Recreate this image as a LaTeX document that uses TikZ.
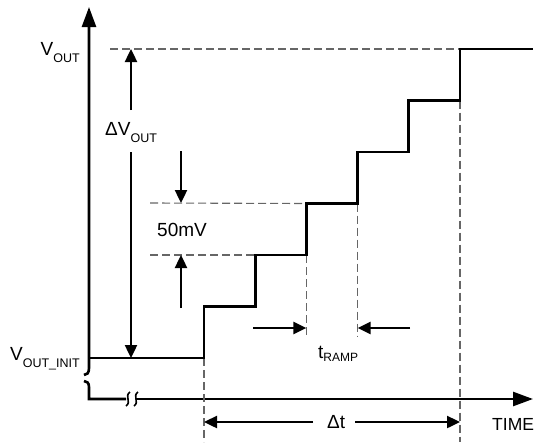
\documentclass[tikz,border=0pt]{standalone}
\usepackage{fontspec}
\setmainfont{Liberation Sans}
\usetikzlibrary{arrows.meta}
\newcommand{\vsub}[2][7pt]{\raisebox{-#1}{\fontsize{12.5}{13}\selectfont #2}}

\begin{document}
\begin{tikzpicture}[x=1pt,y=-1pt,
  lbl/.style={font=\fontsize{19}{22}\selectfont,inner sep=0pt},
  axisline/.style={line width=2.6pt},
  brk/.style={line width=1.6pt},
  trace/.style={line width=2.8pt},
  guide/.style={black!60,line width=1.1pt,dash pattern=on 8pt off 4pt},
  dim/.style={line width=2.4pt,-{Triangle[length=13pt,width=12pt]}},
  axistip/.style={-{Triangle[length=20pt,width=14pt]}}]
  \useasboundingbox (0,0) rectangle (543,442);

  \coordinate (orig) at (89,399);
  \coordinate (init) at (89,358);
  \coordinate (fin) at (533,49);
  \foreach \i in {0,...,5}
    \coordinate (s\i) at ({204+51.2*\i},{358-51.5*\i});

  % axes
  \draw[axisline,axistip] (84,375) .. controls (87,375) and (89,373) .. (89,368) -- (89,7);
  \draw[axisline] (84,381) .. controls (87,381) and (89,383) .. (89,387) -- (orig) -- (126,399);
  \draw[brk] (130,392) .. controls (124,396) and (132,402) .. (126,406);
  \draw[brk] (138,392) .. controls (132,396) and (140,402) .. (134,406);
  \draw[axisline,axistip] (136,399) -- (533,399);

  % guides
  \draw[guide] (110,49) -- (fin -| s5);
  \draw[guide] (150,203) -- (s2 |- s3);
  \draw[guide] (150,255) -- (s1 |- s2);
  \draw[guide] (s0) -- (s0 |- 0,442);
  \draw[guide] (s2) -- (s2 |- 0,337);
  \draw[guide] (s3) -- (s3 |- 0,337);
  \draw[guide] (s5) -- (s5 |- 0,442);

  % output
  \draw[trace] (init) -- (s0) |- (s1) |- (s2) |- (s3) |- (s4) |- (s5) |- (fin);

  % labels
  \node[lbl,anchor=base east] (vout) at (80,55) {V\vsub{OUT}};
  \node[lbl,anchor=base west] (dvout) at (105,135) {ΔV\vsub{OUT}};
  \node[lbl,anchor=base east] (vinit) at (80,360) {V\vsub{OUT\_INIT}};
  \node[lbl,anchor=base west] (mv) at (157,236) {50mV};
  \node[lbl,anchor=base west] (tramp) at (318,358) {t\vsub[3pt]{\fontsize{12}{13}\selectfont RAMP}};
  \node[lbl,anchor=base west] (dt) at (327,428) {Δt};
  \node[lbl,anchor=base west,font=\fontsize{17.5}{20}\selectfont] (time) at (492,430) {TIME};

  % dimensions
  \draw[dim] (131,110) -- (131,49);
  \draw[dim] (131,152) -- (init -| 131,0);
  \draw[dim] (181,151) -- (181,203);
  \draw[dim] (181,308) -- (181,255);
  \draw[dim] (253,328) -- (s2 |- 0,328);
  \draw[dim] (410,328) -- (s3 |- 0,328);
  \draw[dim] ([xshift=-14pt]dt.west |- 0,422) -- (s0 |- 0,422);
  \draw[dim] ([xshift=10pt]dt.east |- 0,422) -- (s5 |- 0,422);
\end{tikzpicture}
\end{document}
